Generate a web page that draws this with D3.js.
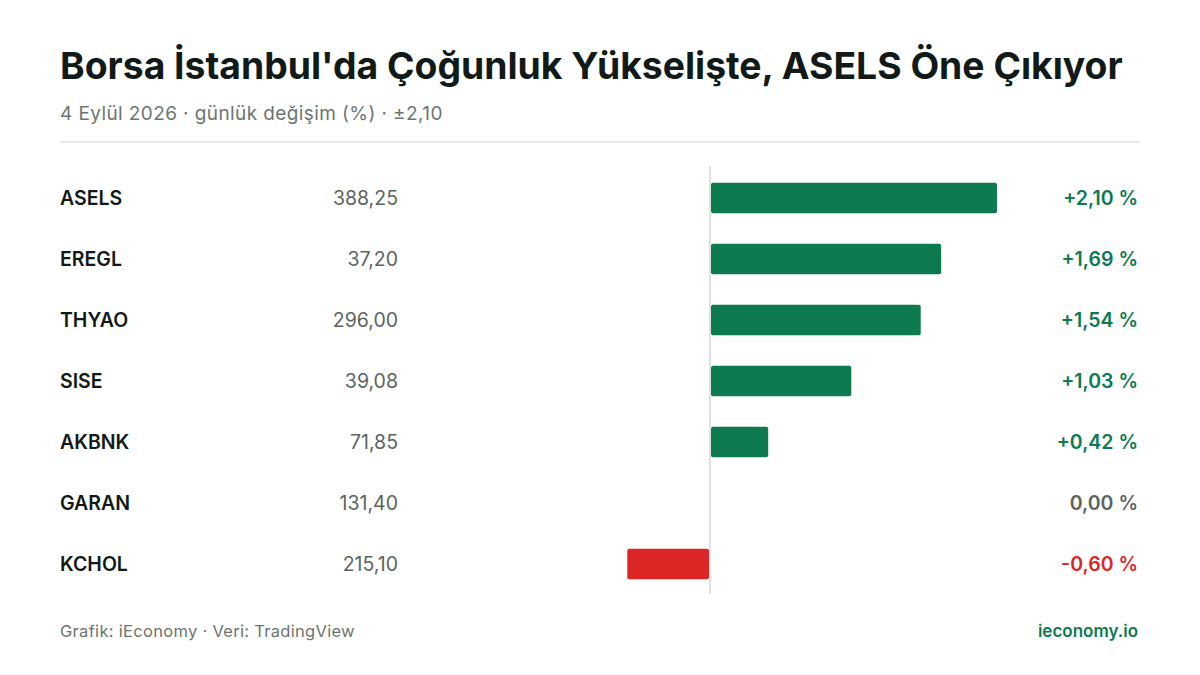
<!DOCTYPE html>
<html><head><meta charset="utf-8">
<script src="https://cdn.jsdelivr.net/npm/d3@7"></script>
<style>body{margin:0;background:#fff}svg{font-family:Inter,sans-serif}</style>
</head><body><svg id="c" width="1200" height="675"></svg>
<script>
const tickers=["ASELS","EREGL","THYAO","SISE","AKBNK","GARAN","KCHOL"];
const prices=["388,25","37,20","296,00","39,08","71,85","131,40","215,10"];
const changes=[2.10,1.69,1.54,1.03,0.42,0.00,-0.60];
const green="#0d7a4f",red="#dc2626",grey="#5b6560";
const svg=d3.select("#c");
svg.append("text").attr("x",60).attr("y",79).attr("font-size",37.3).attr("font-weight",700).attr("fill","#111a16").text("Borsa İstanbul'da Çoğunluk Yükselişte, ASELS Öne Çıkıyor");
svg.append("text").attr("x",60).attr("y",120).attr("font-size",19).attr("letter-spacing",0.4).attr("fill","#6b7570").text("4 Eylül 2026 · günlük değişim (%) · ±2,10");
svg.append("line").attr("x1",60).attr("x2",1140).attr("y1",142).attr("y2",142).attr("stroke","#dde0de").attr("stroke-width",1.5);
const x=d3.scaleLinear().domain([-2.1,2.1]).range([424,996]);
const y=d3.scaleBand().domain(tickers).range([167.5,594.5]).paddingInner(0.5).paddingOuter(0.25);
svg.append("line").attr("x1",x(0)).attr("x2",x(0)).attr("y1",166).attr("y2",594).attr("stroke","#d5d9d7").attr("stroke-width",1.5);
const col=v=>v>0?green:v<0?red:grey;
const fmt=v=>(v>0?"+":"")+v.toFixed(2).replace(".",",")+" %";
tickers.forEach((t,i)=>{
  const cy=y(t)+y.bandwidth()/2, v=changes[i];
  svg.append("text").attr("x",60).attr("y",cy).attr("dy","0.35em").attr("font-size",19.5).attr("font-weight",600).attr("fill","#111a16").text(t);
  svg.append("text").attr("x",398).attr("y",cy).attr("dy","0.35em").attr("text-anchor","end").attr("font-size",19.5).attr("fill","#5b6560").text(prices[i]);
  if(v!==0) svg.append("rect").attr("x",Math.min(x(0),x(v))+(v>0?1:-1)).attr("y",y(t)).attr("width",Math.abs(x(v)-x(0))).attr("height",y.bandwidth()).attr("rx",2).attr("fill",col(v));
  svg.append("text").attr("x",1138).attr("y",cy).attr("dy","0.35em").attr("text-anchor","end").attr("font-size",19.5).attr("font-weight",600).attr("fill",col(v)).text(fmt(v));
});
svg.append("text").attr("x",60).attr("y",637).attr("font-size",16.5).attr("letter-spacing",0.3).attr("fill","#6b7570").text("Grafik: iEconomy · Veri: TradingView");
svg.append("text").attr("x",1138).attr("y",637).attr("text-anchor","end").attr("font-size",17).attr("font-weight",600).attr("fill",green).text("ieconomy.io");
</script></body></html>
